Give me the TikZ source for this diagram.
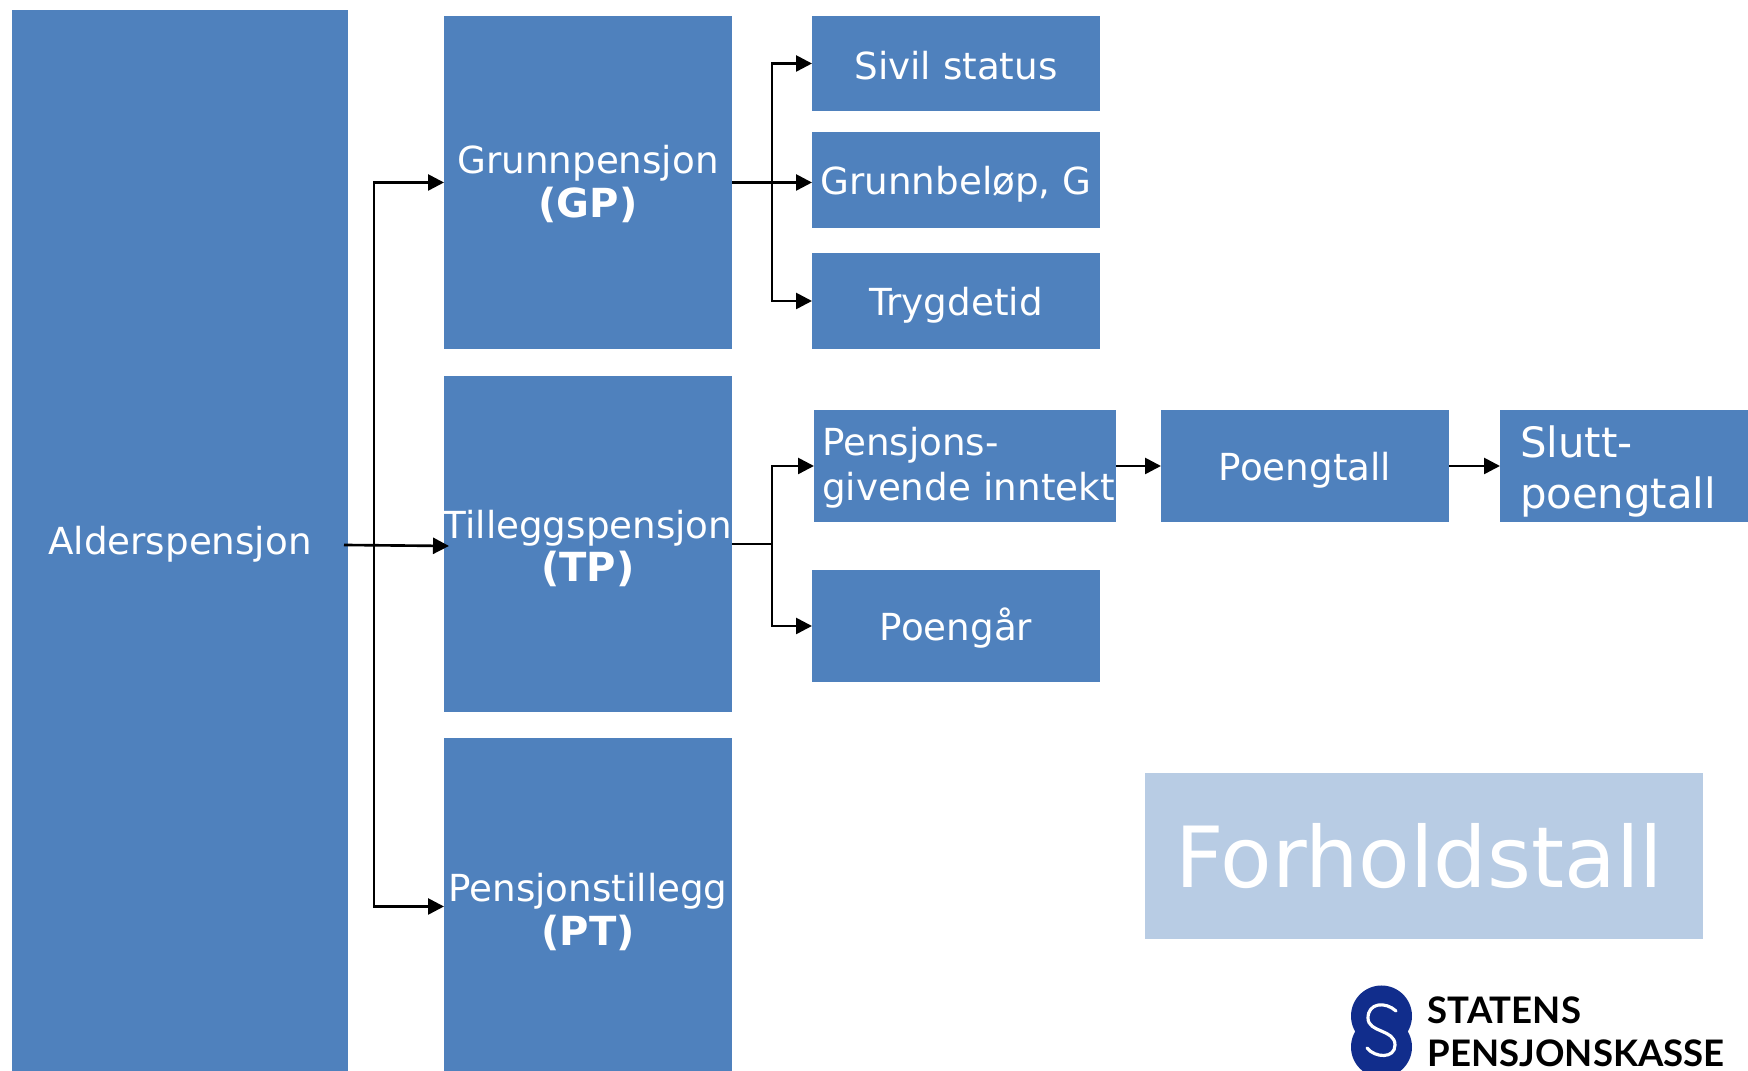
\documentclass[tikz,border=0pt]{standalone}
\usepackage{fontspec}
\setmainfont{DejaVu Sans}
\newfontfamily\logofont{Lato}
\usepackage{xcolor}
\usetikzlibrary{arrows.meta}
\definecolor{boxblue}{HTML}{4F81BD}
\definecolor{boxlight}{HTML}{B8CCE4}
\definecolor{logoblue}{HTML}{112D8C}
\newcommand{\lowered}[1]{\rule{0pt}{#1}}
\newcommand{\abbr}[1]{{\fontsize{11.4}{12.4}\selectfont\textbf{#1}}}
\tikzset{
  box/.style={fill=boxblue,text=white,inner sep=0pt,outer sep=0pt,align=center,font=\fontsize{10.6}{12.4}\selectfont},
  oneline/.style={box,text height=10.8pt,text depth=2.3pt},
  logotext/.style={anchor=west,inner sep=0pt,font=\logofont\bfseries\fontsize{10.4}{11}\selectfont},
  conn/.style={draw=black,line width=.75pt},
  arrow/.style={conn,-{Triangle[length=.16cm,width=.16cm]}},
}
\begin{document}
\begin{tikzpicture}
\useasboundingbox (0,0) rectangle (17.48,10.71);
\clip (0,0) rectangle (17.48,10.71);
\node[oneline,text height=10.5pt,minimum width=3.36cm,minimum height=10.61cm] (alder) at (1.80,5.305) {Alderspensjon};
\node[box,minimum width=2.88cm,minimum height=3.33cm] (gp) at (5.88,8.885) {\lowered{8.8pt}Grunnpensjon\\\abbr{(GP)}};
\node[box,minimum width=2.88cm,minimum height=3.36cm] (tp) at (5.88,5.27) {\lowered{10.6pt}Tilleggspensjon\\\abbr{(TP)}};
\node[box,minimum width=2.88cm,minimum height=3.37cm] (pt) at (5.88,1.645) {\lowered{11.3pt}Pensjonstillegg\\\abbr{(PT)}};
\node[oneline,text height=11.6pt,minimum width=2.88cm,minimum height=.95cm] (sivil) at (9.56,10.075) {Sivil status};
\node[oneline,minimum width=2.88cm,minimum height=.96cm] (grunn) at (9.56,8.91) {Grunnbeløp, G};
\node[oneline,minimum width=2.88cm,minimum height=.96cm] (trygd) at (9.56,7.70) {Trygdetid};
\node[box,minimum width=3.02cm,minimum height=1.12cm,text width=3.02cm,align=left,font=\fontsize{10.6}{12.7}\selectfont] (pgi) at (9.65,6.05) {\lowered{9pt}\hspace*{.08cm}Pensjons-\\\hspace*{.08cm}givende inntekt};
\node[oneline,minimum width=2.88cm,minimum height=1.12cm] (poeng) at (13.05,6.05) {Poengtall};
\node[box,minimum width=2.48cm,minimum height=1.12cm,text width=2.08cm,align=left,font=\fontsize{11.9}{14.6}\selectfont] (slutt) at (16.24,6.05) {\lowered{12pt}Slutt-\\poengtall};
\node[oneline,minimum width=2.88cm,minimum height=1.12cm] (aar) at (9.56,4.45) {Poengår};
\node[box,fill=boxlight,minimum width=5.58cm,minimum height=1.66cm,font=\fontsize{24}{26}\selectfont] (forhold) at (14.24,2.15) {Forholdstall\hspace*{.1cm}};
% logo
\fill[logoblue] (13.815,.55) circle(.305) (13.815,.24) circle(.305);
\draw[white,line width=.9pt,line cap=round] (13.96,.60) .. controls (13.85,.70) and (13.68,.68) .. (13.68,.53) .. controls (13.68,.38) and (13.95,.42) .. (13.95,.26) .. controls (13.95,.12) and (13.75,.13) .. (13.67,.23);
\node[logotext] (logoa) at (14.27,.61) {STATENS};
\node[logotext] (logob) at (14.27,.18) {PENSJONSKASSE};
% connectors
\coordinate (jalder) at (3.74,5.26);
\coordinate (jfrom) at (3.44,5.26);
\coordinate (jto) at (4.49,5.25);
\draw[arrow] (jalder) |- (gp.west);
\draw[arrow] (jalder) |- (pt.west);
\draw[arrow] (jfrom) -- (jto);
\coordinate (jgp) at (7.72,8.885);
\draw[arrow] (gp.east) -- (jgp) |- (sivil.west);
\draw[arrow] (gp.east) -- (grunn.west |- gp.east);
\draw[arrow] (jgp) |- (trygd.west);
\coordinate (jtp) at (7.72,5.27);
\draw[arrow] (tp.east) -- (jtp) |- (pgi.west);
\draw[arrow] (jtp) |- (aar.west);
\draw[arrow] (pgi) -- (poeng);
\draw[arrow] (poeng) -- (slutt);
\end{tikzpicture}
\end{document}
